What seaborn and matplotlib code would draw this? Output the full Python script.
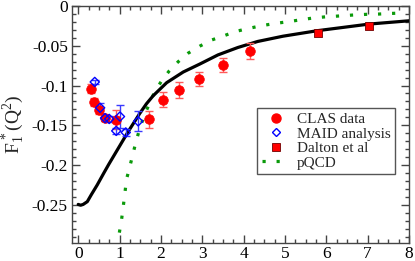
import numpy as np
import pandas as pd
import matplotlib
matplotlib.use("Agg")
import matplotlib.pyplot as plt
import seaborn as sns
from matplotlib.ticker import MultipleLocator
from matplotlib.lines import Line2D

# ---- data ----
clas_q2 = [0.31, 0.39, 0.51, 0.65, 0.91, 1.72, 2.06, 2.44, 2.92, 3.49, 4.16]
clas_f1 = [-0.104, -0.121, -0.131, -0.141, -0.143, -0.1425, -0.118, -0.106, -0.0915, -0.0745, -0.0564]
clas_err = [0.0055, 0.005, 0.005, 0.004, 0.012, 0.0105, 0.0095, 0.0099, 0.009, 0.009, 0.010]

maid_q2 = [0.40, 0.53, 0.65, 0.75, 0.92, 1.01, 1.15, 1.45]
maid_f1 = [-0.0955, -0.128, -0.141, -0.142, -0.157, -0.139, -0.159, -0.145]
maid_err = [0.002, 0.006, 0.003, 0.004, 0.004, 0.015, 0.004, 0.0125]

dalton_q2 = [5.79, 7.04]
dalton_f1 = [-0.0345, -0.0250]

model_q2 = [0.0, 0.06, 0.12, 0.22, 0.32, 0.46, 0.62, 0.74, 0.90, 1.06, 1.22, 1.38,
            1.49, 1.65, 1.81, 2.14, 2.54, 2.94, 3.38, 3.86, 4.34, 4.95, 5.79, 7.04, 8.0]
model_f1 = [-0.2495, -0.2505, -0.2495, -0.246, -0.237, -0.225, -0.210, -0.199, -0.185,
            -0.171, -0.157, -0.144, -0.135, -0.123, -0.113, -0.0964, -0.083, -0.073,
            -0.0615, -0.0522, -0.0446, -0.038, -0.031, -0.0227, -0.0186]

pqcd_q2 = [0.995, 1.05, 1.09, 1.17, 1.25, 1.32, 1.40, 1.49, 1.59, 1.72, 1.84, 2.01,
           2.20, 2.42, 2.66, 2.94, 3.22, 3.52, 3.81, 4.12, 4.43, 4.75, 5.07, 5.39, 5.69,
           6.01, 6.33, 6.63, 6.96, 7.28, 7.58, 7.9]
pqcd_f1 = [-0.285, -0.268, -0.252, -0.2176, -0.2016, -0.187, -0.170, -0.154, -0.1385,
           -0.123, -0.109, -0.0947, -0.0817, -0.070, -0.0593, -0.0505, -0.0429, -0.0375,
           -0.032, -0.0282, -0.0248, -0.022, -0.0198, -0.0173, -0.015, -0.0135, -0.0125,
           -0.0114, -0.0105, -0.0101, -0.0093, -0.0088]

x_ticks = [0, 1, 2, 3, 4, 5, 6, 7, 8]
y_ticks = [0, -0.05, -0.1, -0.15, -0.2, -0.25]
y_ticklabels = ["0", "-0.05", "-0.1", "-0.15", "-0.2", "-0.25"]
legend_labels = ["CLAS data", "MAID analysis", "Dalton et al", "pQCD"]

# ---- style ----
sns.set_style("ticks")
plt.rcParams["font.family"] = ["Liberation Serif", "DejaVu Serif"]
plt.rcParams["mathtext.fontset"] = "custom"
plt.rcParams["mathtext.rm"] = "Liberation Serif"
plt.rcParams["mathtext.it"] = "Liberation Serif:italic"
plt.rcParams["mathtext.default"] = "regular"

fig = plt.figure(figsize=(4.15, 2.61), dpi=100)
ax = fig.add_axes([0.1735, 0.069, 0.812, 0.908])

GREEN = "#0a9a0a"
DOTS = (0, (1, 3.4))

model_df = pd.DataFrame({"q2": model_q2, "f1": model_f1})
sns.lineplot(data=model_df, x="q2", y="f1", ax=ax, color="black", lw=2.3,
             sort=True, legend=False, zorder=3)

pqcd_df = pd.DataFrame({"q2": pqcd_q2, "f1": pqcd_f1})
sns.lineplot(data=pqcd_df, x="q2", y="f1", ax=ax, color=GREEN, lw=2.3,
             linestyle=DOTS, legend=False, zorder=2)

ax.errorbar(clas_q2, clas_f1, yerr=clas_err, fmt="none", ecolor="#ff5a5a",
            elinewidth=1.0, capsize=3, capthick=1.0, zorder=4)
ax.errorbar(maid_q2, maid_f1, yerr=maid_err, fmt="none", ecolor="#3a3aff",
            elinewidth=1.0, capsize=3, capthick=1.0, zorder=4)

clas_df = pd.DataFrame({"q2": clas_q2, "f1": clas_f1})
maid_df = pd.DataFrame({"q2": maid_q2, "f1": maid_f1})
dalton_df = pd.DataFrame({"q2": dalton_q2, "f1": dalton_f1})

sns.scatterplot(data=clas_df, x="q2", y="f1", ax=ax, color="#ff0000", marker="o",
                s=48, edgecolor="#ff0000", linewidth=0.5, zorder=5, legend=False)
sns.scatterplot(data=maid_df, x="q2", y="f1", ax=ax, marker="D", s=22,
                facecolor="none", edgecolor="#0000ff", linewidth=1.0, zorder=6, legend=False)
sns.scatterplot(data=dalton_df, x="q2", y="f1", ax=ax, color="#ff0000", marker="s",
                s=32, edgecolor="#700000", linewidth=0.6, zorder=5, legend=False)

ax.set_xlim(-0.15, 8.0)
ax.set_ylim(-0.298, 0.0)
ax.set_xticks(x_ticks)
ax.set_xticklabels([str(t) for t in x_ticks])
ax.set_yticks(y_ticks)
ax.set_yticklabels(y_ticklabels)
ax.xaxis.set_minor_locator(MultipleLocator(0.25))
ax.yaxis.set_minor_locator(MultipleLocator(0.01))
ax.tick_params(which="both", direction="in", top=True, right=True, colors="#444444",
               labelcolor="black", labelsize=12.5)
ax.tick_params(axis="x", which="major", pad=2)
ax.tick_params(axis="y", which="major", pad=3)
ax.tick_params(which="major", length=6, width=1)
ax.tick_params(which="minor", length=3, width=1)
for s in ax.spines.values():
    s.set_color("#444444")
    s.set_linewidth(1.0)
ax.set_xlabel("")
ax.set_ylabel(r"F$_1^{\,*}$(Q$^2$)", fontsize=14, labelpad=4)

handles = [
    Line2D([], [], color="#ff0000", marker="o", linestyle="none", markersize=6.5),
    Line2D([], [], markeredgecolor="#0000ff", markerfacecolor="none", marker="D",
           linestyle="none", markersize=4.5, markeredgewidth=1.0),
    Line2D([], [], color="#ff0000", marker="s", markeredgecolor="#700000",
           linestyle="none", markersize=5.5, markeredgewidth=0.6),
    Line2D([], [], color=GREEN, lw=2.3, linestyle=DOTS),
]
leg = ax.legend(handles, legend_labels, loc="upper left", bbox_to_anchor=(0.55, 0.57),
                fontsize=11, frameon=True, fancybox=False, shadow=False,
                handlelength=1.8, handletextpad=0.5, labelspacing=0.05,
                borderpad=0.3, borderaxespad=0.0, framealpha=1)
leg.get_frame().set_edgecolor("#555555")
leg.get_frame().set_linewidth(1.0)

fig.savefig("out.png", dpi=100)
